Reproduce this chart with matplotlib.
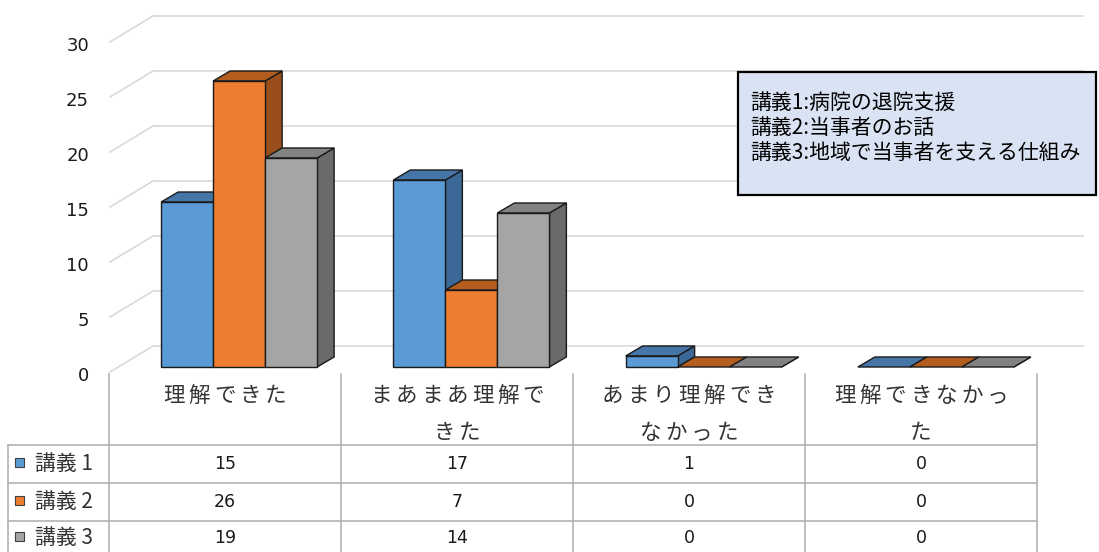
import numpy as np
import matplotlib
matplotlib.use("Agg")
import matplotlib.pyplot as plt
from matplotlib.patches import Polygon, Rectangle

plt.rcParams['font.family'] = ['Noto Sans CJK JP', 'DejaVu Sans']

# data
categories = ['理解できた', 'まあまあ理解できた', 'あまり理解できなかった', '理解できなかった']
series_names = ['講義 1', '講義 2', '講義 3']
lecture1 = [15, 17, 1, 0]
lecture2 = [26, 7, 0, 0]
lecture3 = [19, 14, 0, 0]
yticks = [0, 5, 10, 15, 20, 25, 30]
notes = ['講義1:病院の退院支援', '講義2:当事者のお話', '講義3:地域で当事者を支える仕組み']

values = [lecture1, lecture2, lecture3]
front_cols = ['#5B9BD5', '#ED7D31', '#A5A5A5']
top_cols = ['#4676A8', '#B35E1F', '#828282']
side_cols = ['#3B6896', '#9A4E19', '#6A6A6A']

W, H = 1099, 552
fig = plt.figure(figsize=(W / 100, H / 100), dpi=100)

# chart axes: x = category index, y = value; pixel scale fixed by placement
PX_X = 232.25   # px per category
PX_Y = 11.0     # px per unit
X0_PX = 123     # pixel x of xlim left
Y0_PX = 367     # pixel y (from top) of value 0
ylo, yhi = -1.5, 33
ax = fig.add_axes([X0_PX / W, (H - (Y0_PX - ylo * PX_Y)) / H,
                   4 * PX_X / W, (yhi - ylo) * PX_Y / H])
ax.set_xlim(-0.5, 3.5)
ax.set_ylim(ylo, yhi)
ax.axis('off')


def xpx(p):
    return (p - X0_PX) / PX_X - 0.5


# back wall / floor grid
for v in yticks:
    yf = v - 5 / PX_Y
    yb = v + 21 / PX_Y
    ax.plot([xpx(110), xpx(153)], [yf, yb], color='#D9D9D9', lw=1.2, zorder=1, clip_on=False)
    ax.plot([xpx(153), xpx(1083)], [yb, yb], color='#D9D9D9', lw=1.2, zorder=1, clip_on=False)
    ax.text(xpx(89), v - 9 / PX_Y, str(v), ha='right', va='center',
            fontsize=13, family='DejaVu Sans', color='#1A1A1A')

# 3d-looking bars
bw = 52 / PX_X
ddx = 17 / PX_X
ddy = 10 / PX_Y
for i in range(len(categories)):
    for j in range(3):
        v = values[j][i]
        x0 = i - 1.5 * bw + j * bw
        z = 3 + j
        side = [(x0 + bw, 0), (x0 + bw + ddx, ddy), (x0 + bw + ddx, v + ddy), (x0 + bw, v)]
        top = [(x0, v), (x0 + bw, v), (x0 + bw + ddx, v + ddy), (x0 + ddx, v + ddy)]
        ax.add_patch(Polygon(side, closed=True, fc=side_cols[j], ec='#1A1A1A', lw=1, zorder=z))
        ax.add_patch(Polygon(top, closed=True, fc=top_cols[j], ec='#1A1A1A', lw=1, zorder=z))
        if v > 0:
            ax.bar(x0, v, width=bw, align='edge', color=front_cols[j],
                   edgecolor='#1A1A1A', lw=1, zorder=z + 0.5)

# overlay in pixel units for table and note box
ov = fig.add_axes([0, 0, 1, 1])
ov.set_xlim(0, W)
ov.set_ylim(H, 0)
ov.axis('off')
ov.patch.set_alpha(0)

grid_c = '#B3B3B3'
cols = [109, 341, 573, 805, 1037]
rows = [445, 483, 521]
for c in cols:
    ov.plot([c, c], [374, H], color=grid_c, lw=1.2)
for r in rows:
    ov.plot([8, cols[-1]], [r, r], color=grid_c, lw=1.2)
ov.plot([8, 8], [rows[0], H], color=grid_c, lw=1.2)

# category header, wrapped at 7 chars, spaced characters
pitch = 25.5
for i, name in enumerate(categories):
    cx = (cols[i] + cols[i + 1]) / 2
    lines = [name[k:k + 7] for k in range(0, len(name), 7)]
    for li, line in enumerate(lines):
        y = 396 + li * 37
        start = cx - (len(line) - 1) * pitch / 2
        for k, ch in enumerate(line):
            ov.text(start + k * pitch, y, ch, ha='center', va='center',
                    fontsize=15.5, color='#333333')

# table rows
row_c = [464, 502, 538]
for j in range(3):
    y = row_c[j]
    ov.add_patch(Rectangle((15, y - 6), 9, 9, fc=front_cols[j], ec='#404040', lw=0.8))
    ov.text(35, y, series_names[j], ha='left', va='center', fontsize=15, color='#333333')
    for i in range(len(categories)):
        cx = (cols[i] + cols[i + 1]) / 2
        ov.text(cx, y, str(values[j][i]), ha='center', va='center',
                fontsize=12.5, family='DejaVu Sans', color='#1A1A1A')

# note box
ov.add_patch(Rectangle((738, 72), 358, 123, fc='#DAE3F3', ec='black', lw=1.6, zorder=5))
for k, s in enumerate(notes):
    ov.text(750, 103 + k * 25, s, ha='left', va='center', fontsize=15,
            color='black', zorder=6)

fig.savefig('out.png', dpi=100)
